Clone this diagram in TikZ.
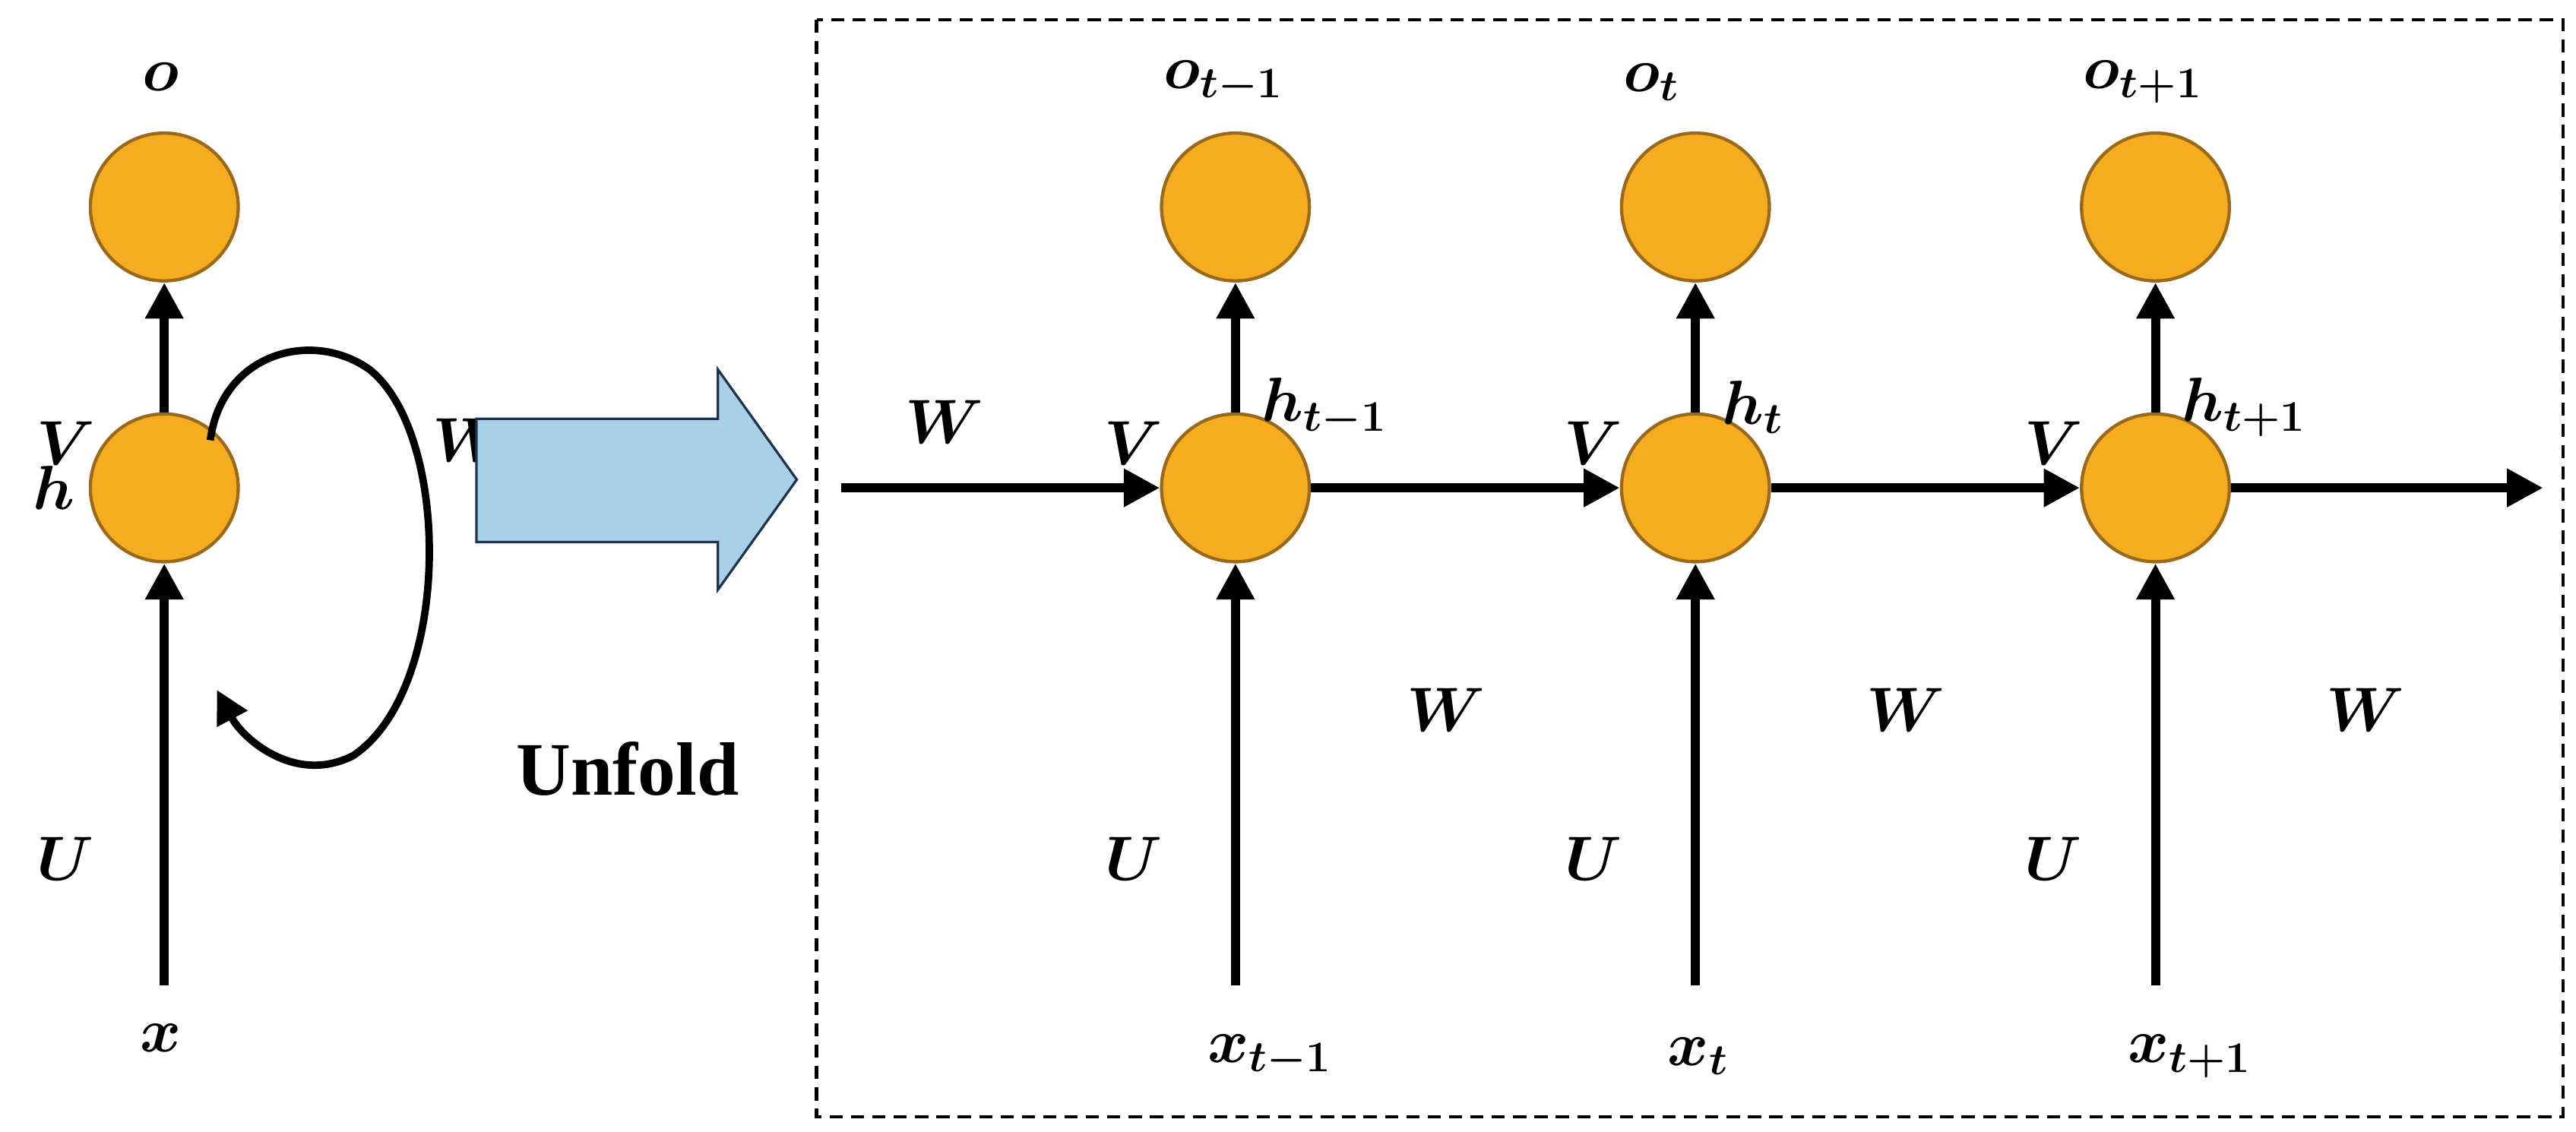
\RequirePackage{fix-cm}
\documentclass[tikz,border=0pt]{standalone}
\usepackage{amsmath,bm}
\usepackage{fontspec}
\setmainfont{Liberation Serif}
\usetikzlibrary{arrows.meta}
\definecolor{orng}{HTML}{F5AC1E}
\definecolor{orngb}{HTML}{9A6A1A}
\definecolor{lblue}{HTML}{A8D0E6}
\definecolor{navy}{HTML}{1F3350}
\begin{document}
\begin{tikzpicture}[x=1pt,y=-1pt,
  cell/.style={circle,minimum size=90pt,inner sep=0pt,fill=orng,draw=orngb,line width=2pt},
  arr/.style={line width=5.5pt,-{Triangle[length=22pt,width=22pt]}},
  lab/.style={font=\fontsize{38}{44}\selectfont,inner sep=0pt}]
\useasboundingbox (0,0) rectangle (1568,689);
% left folded
\node[cell] (o) at (100,126) {};
\node[cell] (h) at (100,297) {};
\coordinate (x0) at (100,600);
\draw[arr] (x0) -- (h.south);
\draw[arr] (h.north) -- (o.south);
\node[lab] (lo) at (98,47) {$\bm{o}$};
\node[lab] (lh) at (33,297) {$\bm{h}$};
\node[lab] (lx) at (98,632) {$\bm{x}$};
\node[lab] (lV) at (40,270) {$\bm{V}$};
\node[lab] (lU) at (40,523) {$\bm{U}$};
\node[lab] (lW) at (287,268) {$\bm{W}$};
\draw[line width=4.5pt,-{Triangle[length=20pt,width=20pt]}] (128,268) .. controls (135,215) and (190,200) .. (225,225) .. controls (275,265) and (275,420) .. (215,460) .. controls (180,478) and (148,450) .. (132,420);
% unfold arrow
\draw[draw=navy,fill=lblue,line width=1.5pt] (290,255) -- (437,255) -- (437,225) -- (485,292) -- (437,359) -- (437,330) -- (290,330) -- cycle;
\node[inner sep=0pt,font=\bfseries\fontsize{46}{50}\selectfont] (uf) at (382,468) {Unfold};
% dashed box
\draw[dash pattern=on 8pt off 5pt,line width=2pt] (497,12) rectangle (1560,680);
\foreach \i/\xx/\s in {1/752/t-1,2/1032/t,3/1312/t+1}{
  \node[cell] (o\i) at (\xx,126) {};
  \node[cell] (h\i) at (\xx,297) {};
  \coordinate (x\i) at (\xx,600);
  \draw[arr] (x\i) -- (h\i.south);
  \draw[arr] (h\i.north) -- (o\i.south);
  \node[lab,anchor=west] (lo\i) at (\xx-44,50) {$\bm{o_{\s}}$};
  \node[lab,anchor=west] (lh\i) at (\xx+16,248) {$\bm{h_{\s}}$};
  \node[lab,anchor=west] (lx\i) at (\xx-17,643) {$\bm{x_{\s}}$};
  \node[lab] (lV\i) at (\xx-62,270) {$\bm{V}$};
  \node[lab] (lU\i) at (\xx-62,523) {$\bm{U}$};
  \node[lab] (lWb\i) at (\xx+128,432) {$\bm{W}$};
}
\coordinate (in) at (512,297);
\coordinate (out) at (1548,297);
\node[lab] (lWin) at (575,257) {$\bm{W}$};
\draw[arr] (in) -- (h1.west);
\draw[arr] (h1.east) -- (h2.west);
\draw[arr] (h2.east) -- (h3.west);
\draw[arr] (h3.east) -- (out);
\end{tikzpicture}
\end{document}
